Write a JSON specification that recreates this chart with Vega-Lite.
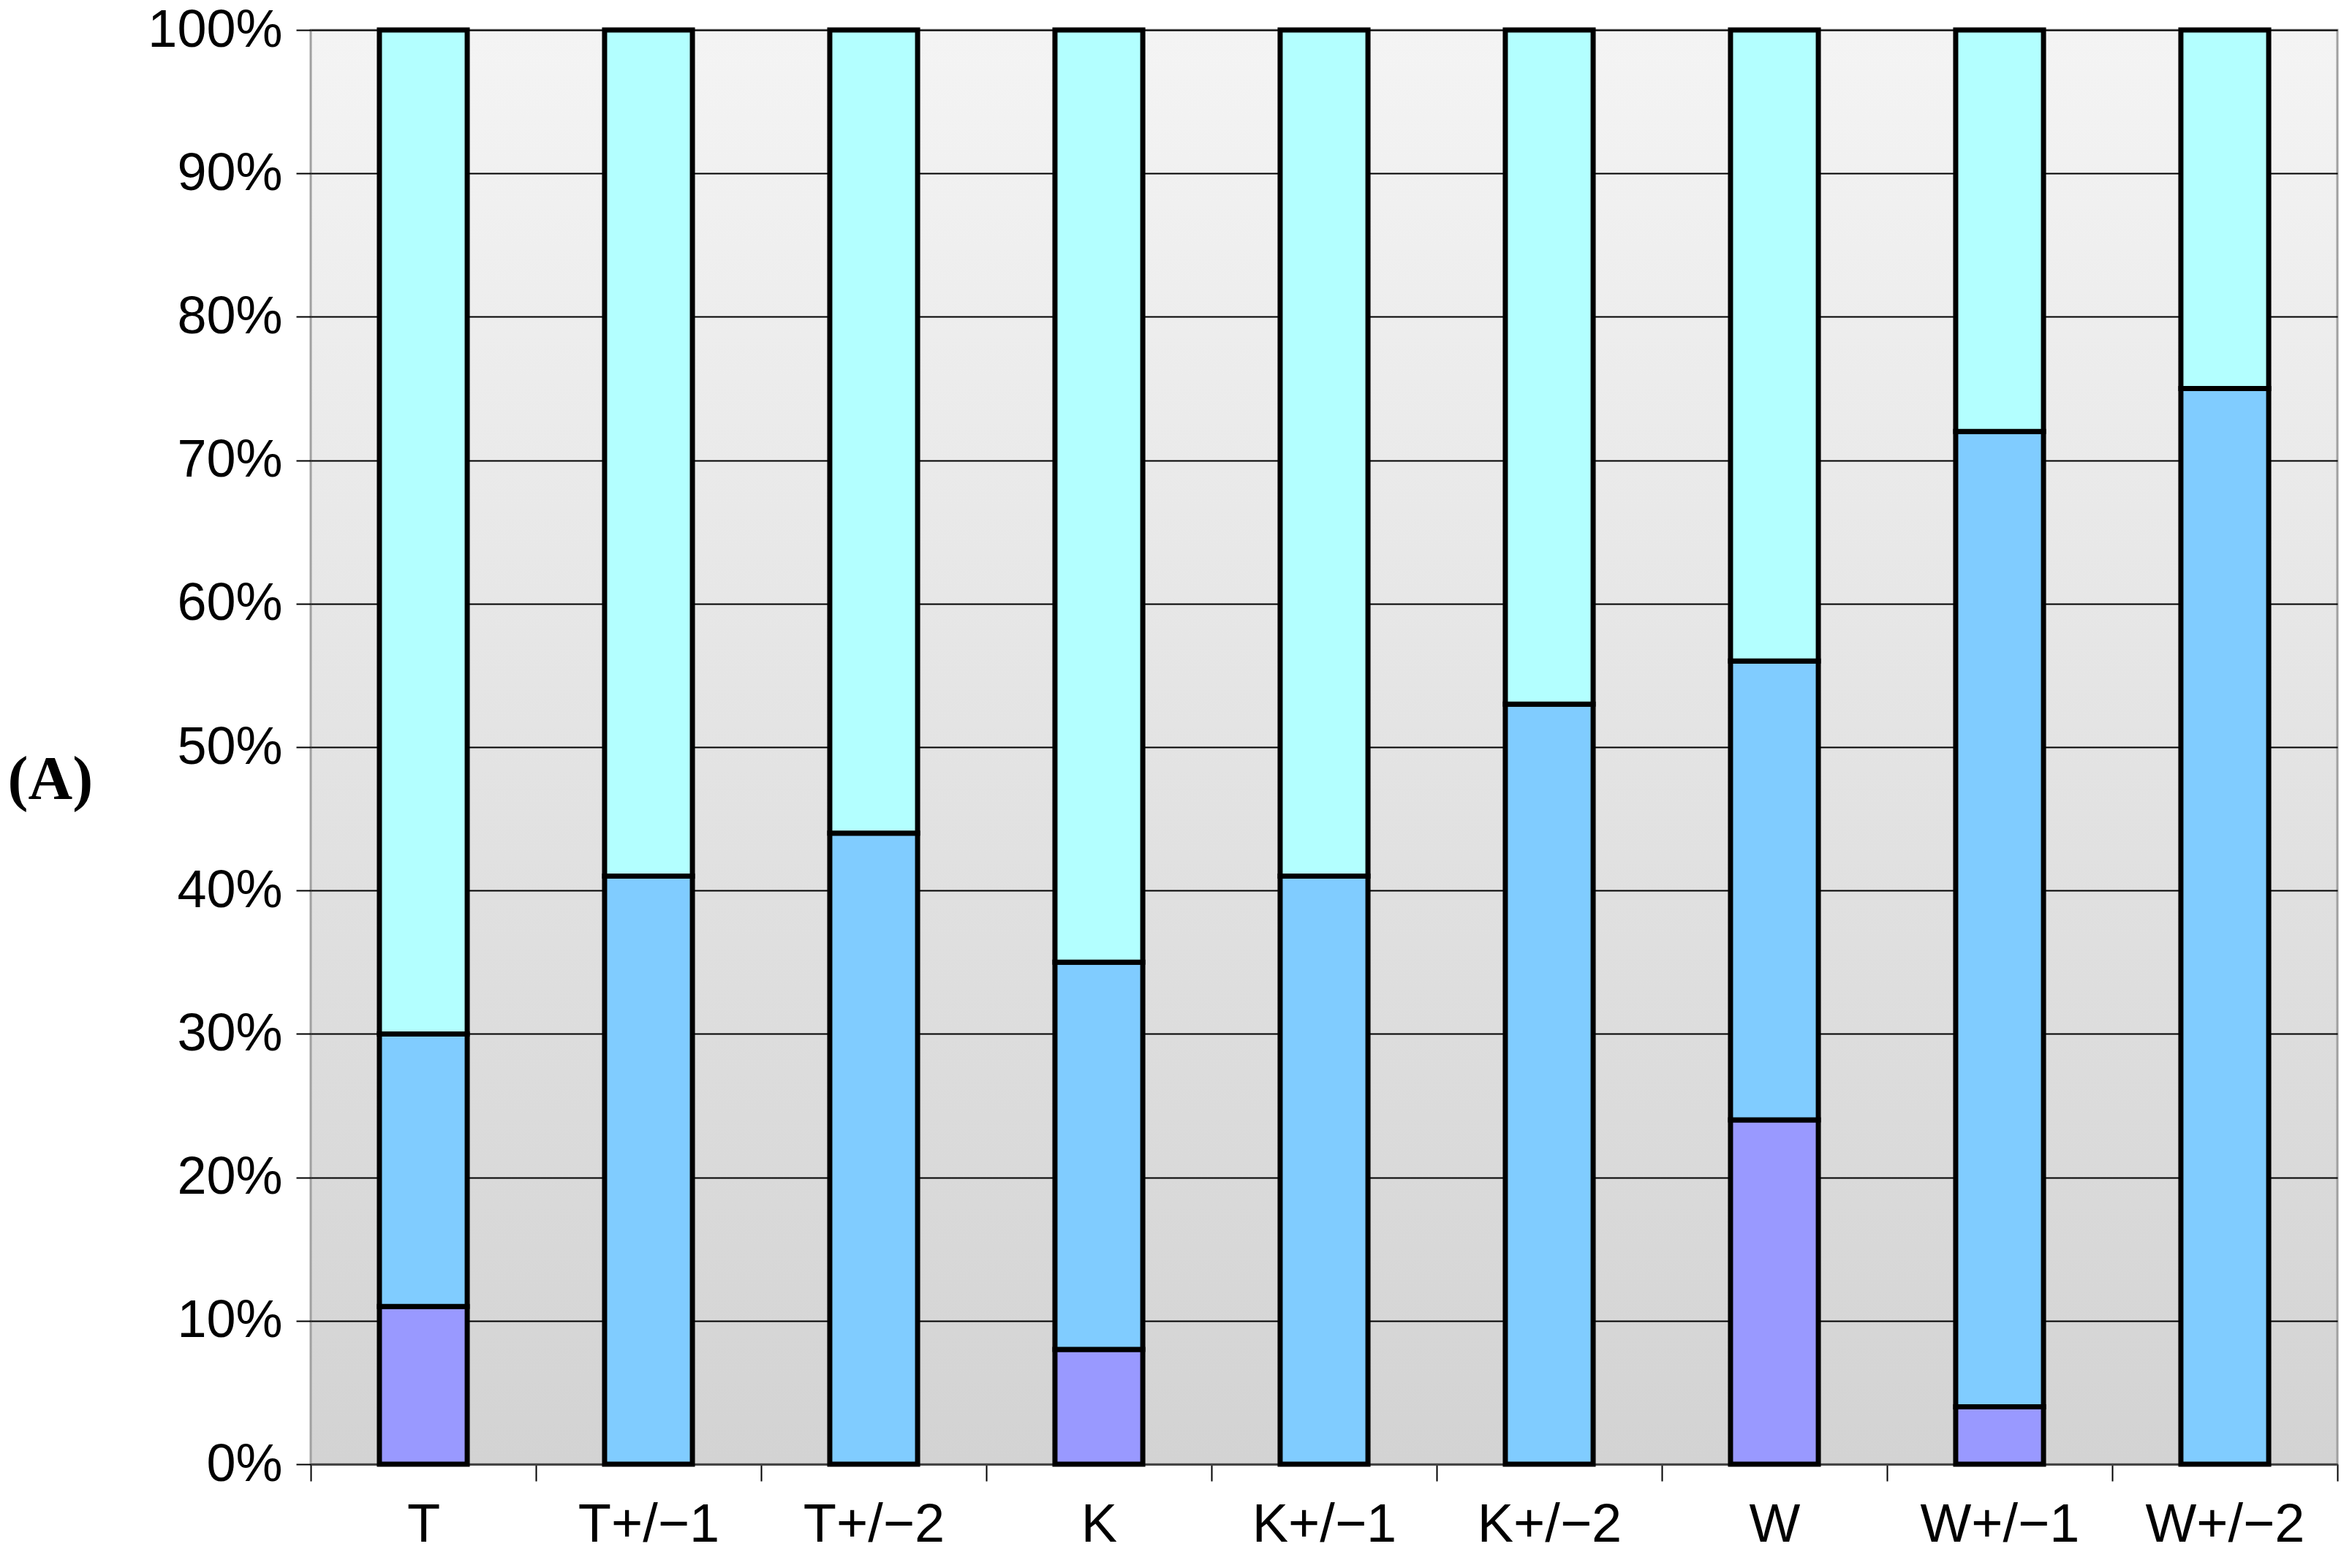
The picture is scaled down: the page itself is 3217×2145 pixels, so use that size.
{
  "$schema": "https://vega.github.io/schema/vega-lite/v6.json",
  "autosize": "none",
  "padding": {"left": 425, "top": 41, "right": 20, "bottom": 142},
  "width": 2772,
  "height": 1962,
  "background": "white",
  "config": {
    "view": {
      "fill": {"gradient": "linear", "x1": 0, "y1": 0, "x2": 0, "y2": 1, "stops": [{"offset": 0, "color": "#F4F4F4"}, {"offset": 1, "color": "#D3D3D3"}]},
      "stroke": "#A0A0A0",
      "strokeWidth": 3
    }
  },
  "data": {
    "values": [
      {"group": "T", "segment": "low", "rank": 1, "value": 11},
      {"group": "T", "segment": "mid", "rank": 2, "value": 19},
      {"group": "T", "segment": "high", "rank": 3, "value": 70},
      {"group": "T+/−1", "segment": "mid", "rank": 2, "value": 41},
      {"group": "T+/−1", "segment": "high", "rank": 3, "value": 59},
      {"group": "T+/−2", "segment": "mid", "rank": 2, "value": 44},
      {"group": "T+/−2", "segment": "high", "rank": 3, "value": 56},
      {"group": "K", "segment": "low", "rank": 1, "value": 8},
      {"group": "K", "segment": "mid", "rank": 2, "value": 27},
      {"group": "K", "segment": "high", "rank": 3, "value": 65},
      {"group": "K+/−1", "segment": "mid", "rank": 2, "value": 41},
      {"group": "K+/−1", "segment": "high", "rank": 3, "value": 59},
      {"group": "K+/−2", "segment": "mid", "rank": 2, "value": 53},
      {"group": "K+/−2", "segment": "high", "rank": 3, "value": 47},
      {"group": "W", "segment": "low", "rank": 1, "value": 24},
      {"group": "W", "segment": "mid", "rank": 2, "value": 32},
      {"group": "W", "segment": "high", "rank": 3, "value": 44},
      {"group": "W+/−1", "segment": "low", "rank": 1, "value": 4},
      {"group": "W+/−1", "segment": "mid", "rank": 2, "value": 68},
      {"group": "W+/−1", "segment": "high", "rank": 3, "value": 28},
      {"group": "W+/−2", "segment": "mid", "rank": 2, "value": 75},
      {"group": "W+/−2", "segment": "high", "rank": 3, "value": 25}
    ]
  },
  "mark": {"type": "bar", "stroke": "black", "strokeWidth": 7, "strokeJoin": "miter", "width": {"band": 0.39}},
  "encoding": {
    "x": {
      "field": "group",
      "type": "nominal",
      "sort": ["T", "T+/−1", "T+/−2", "K", "K+/−1", "K+/−2", "W", "W+/−1", "W+/−2"],
      "scale": {"paddingInner": 0, "paddingOuter": 0},
      "axis": {
        "title": null,
        "labelAngle": 0,
        "labelLimit": 0,
        "labelFont": "Liberation Sans",
        "labelFontSize": 74,
        "labelColor": "black",
        "labelPadding": 24,
        "tickBand": "extent",
        "tickColor": "black",
        "tickWidth": 2,
        "tickSize": 23,
        "domainColor": "#444444",
        "domainWidth": 3,
        "grid": false
      }
    },
    "y": {
      "field": "value",
      "type": "quantitative",
      "stack": "normalize",
      "scale": {"domain": [0, 1]},
      "axis": {
        "format": ".0%",
        "values": [0, 0.1, 0.2, 0.3, 0.4, 0.5, 0.6, 0.7, 0.8, 0.9, 1],
        "title": "(A)",
        "titleAngle": 0,
        "titleFont": "Liberation Serif",
        "titleFontWeight": "bold",
        "titleFontSize": 84,
        "titleColor": "black",
        "titleAlign": "left",
        "titleBaseline": "middle",
        "titleX": -415,
        "titleY": 1026,
        "labelLimit": 0,
        "labelFont": "Liberation Sans",
        "labelFontSize": 72,
        "labelColor": "black",
        "labelPadding": 19,
        "tickColor": "black",
        "tickWidth": 2,
        "tickSize": 20,
        "domain": false,
        "grid": true,
        "gridColor": "black",
        "gridWidth": 2,
        "gridOpacity": 1
      }
    },
    "color": {
      "field": "segment",
      "type": "nominal",
      "scale": {"domain": ["low", "mid", "high"], "range": ["#9999FF", "#80CCFF", "#B3FFFF"]},
      "legend": null
    },
    "order": {"field": "rank", "type": "quantitative", "sort": "ascending"},
    "opacity": {"value": 1}
  }
}
